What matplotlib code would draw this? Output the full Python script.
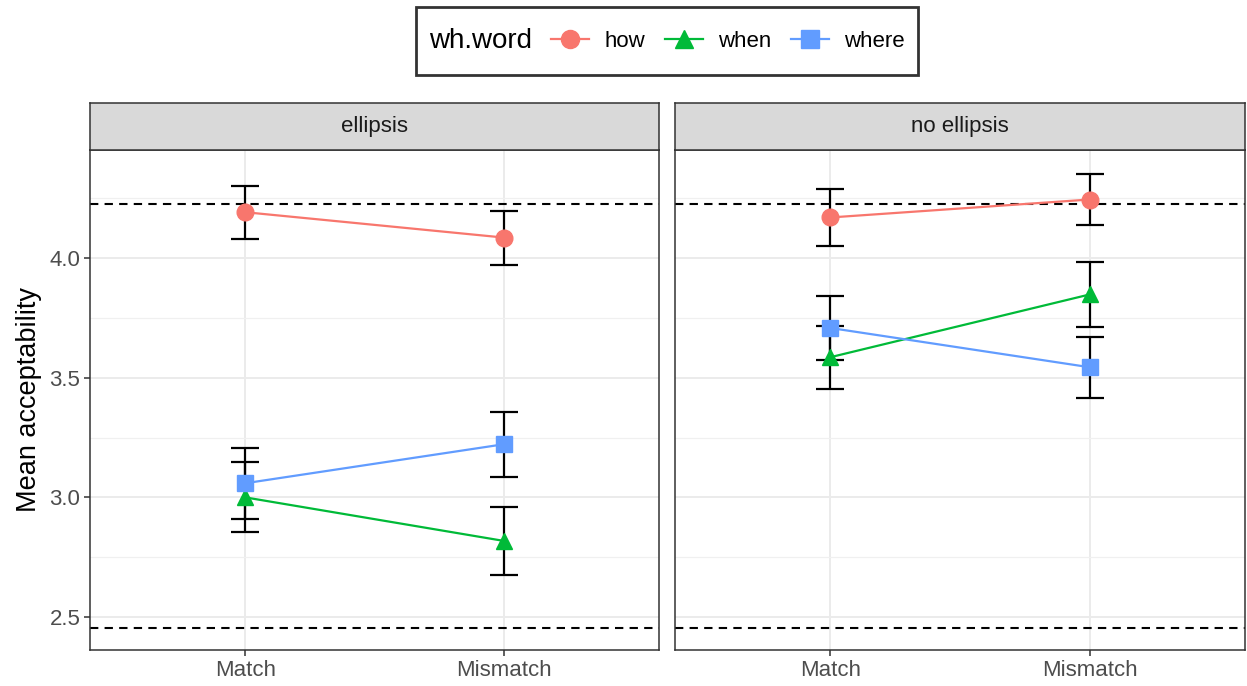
import numpy as np
import matplotlib.pyplot as plt
from matplotlib.lines import Line2D
from matplotlib.offsetbox import HPacker, DrawingArea

plt.rcParams['font.family'] = ['Liberation Sans', 'DejaVu Sans']

conditions = ['Match', 'Mismatch']
panels = ['ellipsis', 'no ellipsis']
words = ['how', 'when', 'where']

# means per panel, per wh-word: [Match, Mismatch]
means = {
    'ellipsis':    {'how': [4.192, 4.086], 'when': [3.000, 2.818], 'where': [3.059, 3.222]},
    'no ellipsis': {'how': [4.170, 4.245], 'when': [3.586, 3.848], 'where': [3.708, 3.544]},
}
# half-width of error bars
errs = {
    'ellipsis':    {'how': [0.110, 0.113], 'when': [0.146, 0.143], 'where': [0.148, 0.136]},
    'no ellipsis': {'how': [0.118, 0.107], 'when': [0.132, 0.137], 'where': [0.132, 0.128]},
}
ref_lines = [4.228, 2.455]

colors = {'how': '#F8766D', 'when': '#00BA38', 'where': '#619CFF'}
markers = {'how': 'o', 'when': '^', 'where': 's'}

fig = plt.figure(figsize=(12.47, 6.86), dpi=100)
W, H = 1247, 686
axes = [fig.add_axes([90 / W, 1 - 650 / H, 569 / W, 500 / H]),
        fig.add_axes([675 / W, 1 - 650 / H, 570 / W, 500 / H])]

x = np.arange(1, len(conditions) + 1)
for ax, panel in zip(axes, panels):
    for w in words:
        ax.errorbar(x, means[panel][w], yerr=errs[panel][w], fmt='none',
                    ecolor='black', elinewidth=1.6, capsize=10, capthick=1.6, zorder=3)
    for w in words:
        ax.plot(x, means[panel][w], color=colors[w], lw=1.6, zorder=4)
        ax.plot(x, means[panel][w], linestyle='none', marker=markers[w],
                color=colors[w], markersize=12, zorder=5)
    for r in ref_lines:
        ax.axhline(r, color='black', lw=1.5, ls=(0, (4, 3)), zorder=2)

    ax.set_xlim(0.4, 2.6)
    ax.set_ylim(2.362, 4.452)
    ax.set_xticks(x)
    ax.set_xticklabels(conditions)
    ax.set_yticks([2.5, 3.0, 3.5, 4.0])
    ax.set_yticks([2.75, 3.25, 3.75, 4.25], minor=True)
    ax.grid(True, which='major', color='#EBEBEB', lw=1.4, zorder=0)
    ax.grid(True, which='minor', axis='y', color='#F0F0F0', lw=0.9, zorder=0)
    ax.set_axisbelow(True)
    ax.tick_params(axis='both', which='major', labelsize=16, labelcolor='#4D4D4D',
                   color='#333333', length=4, width=1.1, pad=3)
    ax.tick_params(axis='y', which='minor', length=0)
    for s in ax.spines.values():
        s.set_color('#333333')
        s.set_linewidth(1.1)

    # facet strip
    strip = ax.inset_axes([0, 1, 1, 47 / 500])
    strip.set_facecolor('#D9D9D9')
    strip.set_xticks([])
    strip.set_yticks([])
    for s in strip.spines.values():
        s.set_color('#333333')
        s.set_linewidth(1.1)
    strip.text(0.5, 0.5, panel, ha='center', va='center', fontsize=16, color='#1A1A1A')

axes[1].tick_params(axis='y', labelleft=False, length=0)
axes[0].set_ylabel('Mean acceptability', fontsize=19.5, labelpad=5)

handles = [Line2D([], [], color=colors[w], marker=markers[w], markersize=13, lw=1.6)
           for w in words]
leg = fig.legend(handles, words, loc='upper center', bbox_to_anchor=(667 / W, 1 - 7 / H),
                 borderaxespad=0, ncol=3, title='wh.word', fontsize=16, title_fontsize=20,
                 frameon=True, fancybox=False, edgecolor='black', handlelength=1.7,
                 handletextpad=0.7, columnspacing=0.5, borderpad=0.6)
leg.get_frame().set_linewidth(2)
# put title to the left of the keys (with a spacer to make the box taller)
box = leg.get_children()[0]
title_box = box.get_children()[0]
keys_box = box.get_children()[1]
box._children = [keys_box]
title_row = HPacker(children=[DrawingArea(0, 30), title_box], pad=0, sep=0, align='center')
keys_box._children = [title_row] + keys_box.get_children()
keys_box.align = 'center'
keys_box.sep = 14

fig.savefig('out.png', dpi=100)
